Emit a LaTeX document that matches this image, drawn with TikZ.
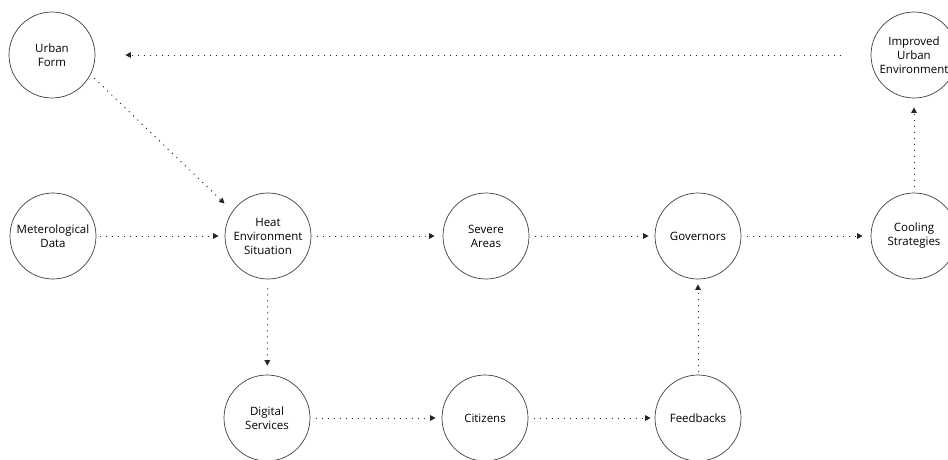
\documentclass[tikz,border=0pt]{standalone}
\usepackage{fontspec}
\setmainfont{Open Sans}
\usetikzlibrary{arrows.meta}
\tikzset{
  stage/.style={circle, draw=black!75, line width=0.7pt, minimum size=86pt, inner sep=0pt,
    align=center, font=\fontsize{11.5}{14}\selectfont, text=black},
  flow/.style={line width=1pt, dash pattern=on 1pt off 5pt, draw=black!85,
    -{Triangle[length=5.5pt,width=5.5pt]}, shorten <=6pt, shorten >=6pt}
}
\begin{document}
\begin{tikzpicture}[x=1pt,y=-1pt]
\useasboundingbox (0,0) rectangle (948,459);
\node[stage] (urban) at (52,55) {Urban\\Form};
\node[stage] (improved) at (914,55) {Improved\\Urban\\Environment};
\node[stage] (meteo) at (53,236) {Meterological\\Data};
\node[stage] (heat) at (268,236) {Heat\\Environment\\Situation};
\node[stage] (severe) at (486,236) {Severe\\Areas};
\node[stage] (gov) at (698,236) {Governors};
\node[stage] (cool) at (914,236) {Cooling\\Strategies};
\node[stage] (digital) at (267,418) {Digital\\Services};
\node[stage] (citizens) at (485,418) {Citizens};
\node[stage] (feed) at (698,418) {Feedbacks};

\draw[flow, shorten <=30pt, shorten >=30pt] (improved) -- (urban);
\draw[flow, shorten <=5pt, shorten >=11pt] (urban.-27) -- (heat.145);
\draw[flow, shorten <=4pt] (meteo) -- (heat);
\draw[flow, shorten >=8pt] (heat) -- (severe);
\draw[flow] (severe) -- (gov);
\draw[flow, shorten >=8pt] (gov) -- (cool);
\draw[flow, shorten >=9pt] (cool) -- (improved);
\draw[flow, shorten <=9pt, shorten >=9pt] (heat) -- (digital);
\draw[flow] (digital) -- (citizens);
\draw[flow, shorten >=4pt] (citizens) -- (feed);
\draw[flow, shorten <=3pt, shorten >=5pt] (feed) -- (gov);
\end{tikzpicture}
\end{document}
